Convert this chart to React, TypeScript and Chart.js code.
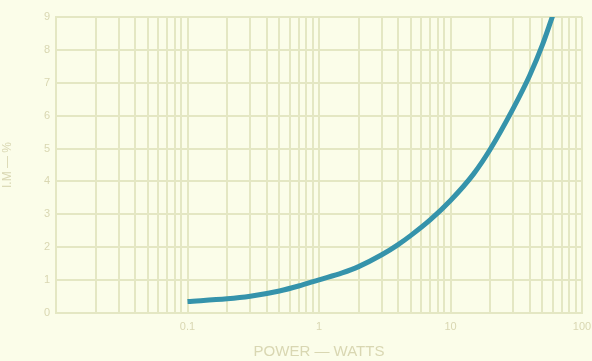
import React, { useEffect, useRef } from "react";
import { Chart, registerables } from "chart.js";

Chart.register(...registerables);

const powerWatts = [0.1, 0.2, 0.3, 0.5, 0.7, 1, 1.5, 2, 3, 4, 5, 7, 10, 15, 20, 30, 40, 50, 60];
const imPercent = [0.35, 0.43, 0.51, 0.67, 0.82, 1.01, 1.22, 1.41, 1.77, 2.08, 2.36, 2.83, 3.42, 4.23, 4.97, 6.22, 7.22, 8.15, 9.05];
const xLabelValues = [0.1, 1, 10, 100];
const yTickValues = [0, 1, 2, 3, 4, 5, 6, 7, 8, 9];
const xTitle = "POWER \u2014 WATTS";
const yTitle = "I.M \u2014 %";

const BG = "#fbfde9";
const GRID = "#e4e7c3";
const TEXT = "#d9d7b2";

export default function App() {
  const ref = useRef<HTMLCanvasElement | null>(null);
  useEffect(() => {
    document.body.style.margin = "0";
    document.body.style.background = BG;
    const canvas = ref.current;
    if (!canvas) return;
    const gridTicks: number[] = [];
    for (let e = -2; e < 2; e++) {
      for (let m = 1; m <= 9; m++) gridTicks.push(parseFloat((m * Math.pow(10, e)).toPrecision(3)));
    }
    gridTicks.push(100);
    const chart = new Chart(canvas, {
      type: "line",
      data: {
        datasets: [
          {
            data: powerWatts.map((x, i) => ({ x, y: imPercent[i] })),
            borderColor: "#3593ab",
            borderWidth: 5,
            pointRadius: 0,
            cubicInterpolationMode: "monotone",
            fill: false,
          },
        ],
      },
      options: {
        responsive: false,
        animation: false,
        layout: { padding: { left: 0, right: 10, top: 17, bottom: 0 } },
        plugins: { legend: { display: false }, tooltip: { enabled: false } },
        scales: {
          x: {
            type: "logarithmic",
            min: 0.01,
            max: 100,
            afterBuildTicks: (scale: any) => {
              scale.ticks = gridTicks.map((v) => ({ value: v }));
            },
            afterFit: (scale: any) => {
              scale.height = 48;
              scale.paddingRight = 0;
              scale.paddingLeft = 0;
            },
            ticks: {
              autoSkip: false,
              maxRotation: 0,
              color: TEXT,
              font: { family: "Liberation Sans", size: 11 },
              padding: 7,
              callback: (v: any) => {
                const n = Number(v);
                return xLabelValues.some((t) => Math.abs(t - n) / t < 1e-6) ? String(n) : "";
              },
            },
            grid: { color: GRID, lineWidth: 2, drawTicks: false },
            border: { color: GRID, width: 2 },
            title: {
              display: true,
              text: xTitle,
              color: TEXT,
              font: { family: "Liberation Sans", size: 15 },
              padding: { top: 10, bottom: 0 },
            },
          },
          y: {
            min: 0,
            max: 9,
            afterBuildTicks: (scale: any) => {
              scale.ticks = yTickValues.map((v) => ({ value: v }));
            },
            afterFit: (scale: any) => {
              scale.width = 56;
              scale.paddingTop = 0;
              scale.paddingBottom = 0;
            },
            ticks: {
              color: TEXT,
              font: { family: "Liberation Sans", size: 11 },
              padding: 6,
            },
            grid: { color: GRID, lineWidth: 2, drawTicks: false },
            border: { color: GRID, width: 2 },
            title: {
              display: true,
              text: yTitle,
              color: TEXT,
              font: { family: "Liberation Sans", size: 12 },
              padding: { top: 0, bottom: 6 },
            },
          },
        },
      },
    } as any);
    return () => chart.destroy();
  }, []);
  return (
    <div style={{ width: 592, height: 361, background: BG }}>
      <canvas ref={ref} width={592} height={361} style={{ display: "block" }} />
    </div>
  );
}
